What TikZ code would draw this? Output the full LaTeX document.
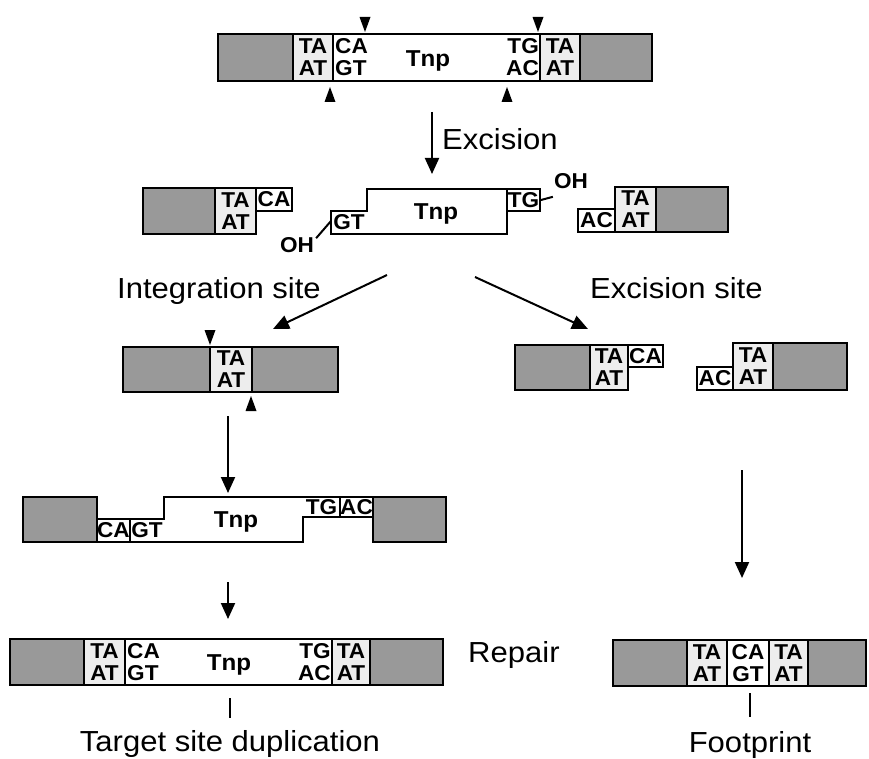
\documentclass[tikz,border=0pt]{standalone}
\usepackage{fontspec}
\setmainfont{Liberation Sans}
\newfontfamily\labelfam[FakeStretch=1.07]{Liberation Sans}
\newfontfamily\bpfam[FakeStretch=1.05]{Liberation Sans}
\usetikzlibrary{arrows.meta}

\newcommand\bpfont{\bpfam\bfseries\fontsize{21.5}{22}\selectfont}
\newcommand\tnpfont{\bpfam\bfseries\fontsize{23}{24}\selectfont}
\newcommand\lblfont{\labelfam\fontsize{29}{31}\selectfont}

\tikzset{
  outline/.style={line width=2.8pt, line join=miter},
  divider/.style={line width=2pt},
  greyfill/.style={fill=black!40},
  lightfill/.style={fill=black!7},
  bp/.style={font=\bpfont, align=center, inner sep=0pt},
  bpleft/.style={font=\bpfont, align=left, inner sep=0pt, anchor=west},
  bpright/.style={font=\bpfont, align=right, inner sep=0pt, anchor=east},
  tnp/.style={font=\tnpfont, inner sep=0pt, anchor=base},
  lbl/.style={font=\lblfont, inner sep=0pt, anchor=base west},
  oh/.style={font=\bpfont, inner sep=0pt},
  flow/.style={line width=2pt, -{Triangle[length=16pt,width=14pt]}},
  tick/.style={line width=2pt},
}

% cleavage marks: down-pointing and up-pointing solid triangles (tip given)
\newcommand\cutdown[2]{\fill (#1-5.5,#2-15) -- (#1+5.5,#2-15) -- (#1,#2) -- cycle;}
\newcommand\cutup[2]{\fill (#1-5.5,#2+15) -- (#1+5.5,#2+15) -- (#1,#2) -- cycle;}

\begin{document}
\begin{tikzpicture}[x=1pt,y=-1pt]
\useasboundingbox (0,0) rectangle (869,759);

% ---------------- donor site with the transposon ----------------
\fill[greyfill]  (218,34) rectangle (293,81);
\fill[lightfill] (293,34) rectangle (333,81);
\fill[white]     (333,34) rectangle (540,81);
\fill[lightfill] (540,34) rectangle (580,81);
\fill[greyfill]  (580,34) rectangle (652,81);
\draw[outline] (218,34) rectangle (652,81);
\draw[divider] (293,34) -- (293,81) (333,34) -- (333,81)
               (540,34) -- (540,81) (580,34) -- (580,81);
\node[bp] (d-ta1) at (313,57.5) {TA\\AT};
\node[bpleft] (d-ca) at (335,57.5) {CA\\GT};
\node[tnp] (d-tnp) at (428,67) {Tnp};
\node[bpright] (d-tg) at (539,57.5) {TG\\AC};
\node[bp] (d-ta2) at (560,57.5) {TA\\AT};
\cutdown{365}{32}
\cutdown{538}{32}
\cutup{330}{87}
\cutup{507}{87}

% excision step
\coordinate (exc-a) at (432,112);
\coordinate (exc-b) at (432,174);
\draw[flow] (exc-a) -- (exc-b);
\node[lbl] (lab-exc) at (442,150) {Excision};

% ---------------- excised pieces ----------------
% left flank
\fill[greyfill]  (143,188) rectangle (215,234);
\fill[lightfill] (215,188) rectangle (256,234);
\fill[white]     (256,188) rectangle (292,211);
\draw[outline] (143,188) -- (292,188) -- (292,211) -- (256,211) -- (256,234) -- (143,234) -- cycle;
\draw[divider] (215,188) -- (215,234) (256,188) -- (256,211);
\node[bp] (e-ta1) at (235.5,211) {TA\\AT};
\node[bp] (e-ca) at (274,199.5) {CA};

% free transposon
\draw[outline, fill=white] (331,211) -- (367,211) -- (367,189) -- (540,189) -- (540,211)
      -- (507,211) -- (507,234) -- (331,234) -- cycle;
\draw[divider] (507,189) -- (507,211);
\node[bp] (t-gt) at (349,222.5) {GT};
\node[tnp] (t-tnp) at (436,219) {Tnp};
\node[bp] (t-tg) at (523.5,200) {TG};
\node[oh] (oh-l) at (297,245) {OH};
\node[oh] (oh-r) at (571,181) {OH};
\coordinate (gt-end) at (331,221);
\coordinate (tg-end) at (541,200);
\draw[divider] (oh-l.north east) ++(2,1) -- (gt-end);
\draw[divider] (tg-end) -- ([shift={(-1,8)}]oh-r.south west);

% right flank
\fill[white]     (578,209) rectangle (615,232);
\fill[lightfill] (615,187) rectangle (656,232);
\fill[greyfill]  (656,187) rectangle (728,232);
\draw[outline] (578,209) -- (615,209) -- (615,187) -- (728,187) -- (728,232) -- (578,232) -- cycle;
\draw[divider] (615,209) -- (615,232) (656,187) -- (656,232);
\node[bp] (e-ac) at (596.5,220.5) {AC};
\node[bp] (e-ta2) at (635.5,209.5) {TA\\AT};

% branches
\coordinate (br-l-a) at (387,275);
\coordinate (br-l-b) at (273,329);
\coordinate (br-r-a) at (475,277);
\coordinate (br-r-b) at (588,329);
\draw[flow] (br-l-a) -- (br-l-b);
\draw[flow] (br-r-a) -- (br-r-b);
\node[lbl] (lab-int) at (117,298) {Integration site};
\node[lbl] (lab-exs) at (590,298) {Excision site};

% ---------------- integration site ----------------
\fill[greyfill]  (123,347) rectangle (210,392);
\fill[lightfill] (210,347) rectangle (252,392);
\fill[greyfill]  (252,347) rectangle (338,392);
\draw[outline] (123,347) rectangle (338,392);
\draw[divider] (210,347) -- (210,392) (252,347) -- (252,392);
\node[bp] (i-ta) at (231,369.5) {TA\\AT};
\cutdown{210}{345}
\cutup{251}{396}

% ---------------- excision site ----------------
\fill[greyfill]  (515,345) rectangle (590,390);
\fill[lightfill] (590,345) rectangle (628,390);
\fill[white]     (628,345) rectangle (663,367);
\draw[outline] (515,345) -- (663,345) -- (663,367) -- (628,367) -- (628,390) -- (515,390) -- cycle;
\draw[divider] (590,345) -- (590,390) (628,345) -- (628,367);
\node[bp] (x-ta1) at (609,367.5) {TA\\AT};
\node[bp] (x-ca) at (645.5,356) {CA};

\fill[white]     (697,367) rectangle (733,390);
\fill[lightfill] (733,343) rectangle (773,390);
\fill[greyfill]  (773,343) rectangle (847,390);
\draw[outline] (697,367) -- (733,367) -- (733,343) -- (847,343) -- (847,390) -- (697,390) -- cycle;
\draw[divider] (733,367) -- (733,390) (773,343) -- (773,390);
\node[bp] (x-ac) at (715,378.5) {AC};
\node[bp] (x-ta2) at (753,366.5) {TA\\AT};

% ---------------- insertion intermediate ----------------
\coordinate (ins-a) at (228,416);
\coordinate (ins-b) at (228,493);
\draw[flow] (ins-a) -- (ins-b);

\draw[outline, greyfill] (23,497) rectangle (97,542);
\draw[outline, fill=white] (97,519) -- (164,519) -- (164,497) -- (373,497) -- (373,517)
      -- (303,517) -- (303,542) -- (97,542) -- cycle;
\draw[outline, greyfill] (373,497) rectangle (446,542);
\draw[divider] (130,519) -- (130,542) (340,497) -- (340,517);
\node[bp] (g-ca) at (113.5,530.5) {CA};
\node[bp] (g-gt) at (147,530.5) {GT};
\node[tnp] (g-tnp) at (236,527) {Tnp};
\node[bp] (g-tg) at (321.5,507) {TG};
\node[bp] (g-ac) at (356.5,507) {AC};

\coordinate (rep-a) at (228,582);
\coordinate (rep-b) at (228,619);
\draw[flow] (rep-a) -- (rep-b);
\coordinate (fp-a) at (742,470);
\coordinate (fp-b) at (742,578);
\draw[flow] (fp-a) -- (fp-b);
\node[lbl] (lab-rep) at (468,662) {Repair};

% ---------------- products ----------------
\fill[greyfill]  (10,639) rectangle (84,685);
\fill[lightfill] (84,639) rectangle (125,685);
\fill[white]     (125,639) rectangle (332,685);
\fill[lightfill] (332,639) rectangle (370,685);
\fill[greyfill]  (370,639) rectangle (443,685);
\draw[outline] (10,639) rectangle (443,685);
\draw[divider] (84,639) -- (84,685) (125,639) -- (125,685)
               (332,639) -- (332,685) (370,639) -- (370,685);
\node[bp] (p-ta1) at (104.5,662) {TA\\AT};
\node[bpleft] (p-ca) at (127,662) {CA\\GT};
\node[tnp] (p-tnp) at (229,670) {Tnp};
\node[bpright] (p-tg) at (331,662) {TG\\AC};
\node[bp] (p-ta2) at (351,662) {TA\\AT};
\coordinate (tsd-a) at (230,698);
\coordinate (tsd-b) at (230,718);
\draw[tick] (tsd-a) -- (tsd-b);
\node[font=\lblfont, inner sep=0pt, anchor=base] (lab-tsd) at (230,751) {Target site duplication};

\fill[greyfill]  (613,640) rectangle (687,686);
\fill[lightfill] (687,640) rectangle (727,686);
\fill[white]     (727,640) rectangle (769,686);
\fill[lightfill] (769,640) rectangle (808,686);
\fill[greyfill]  (808,640) rectangle (866,686);
\draw[outline] (613,640) rectangle (866,686);
\draw[divider] (687,640) -- (687,686) (727,640) -- (727,686)
               (769,640) -- (769,686) (808,640) -- (808,686);
\node[bp] (f-ta1) at (707,663) {TA\\AT};
\node[bp] (f-ca) at (748,663) {CA\\GT};
\node[bp] (f-ta2) at (788.5,663) {TA\\AT};
\coordinate (fp-c) at (750,693);
\coordinate (fp-d) at (750,717);
\draw[tick] (fp-c) -- (fp-d);
\node[font=\lblfont, inner sep=0pt, anchor=base] (lab-fp) at (750,752) {Footprint};

\end{tikzpicture}
\end{document}
